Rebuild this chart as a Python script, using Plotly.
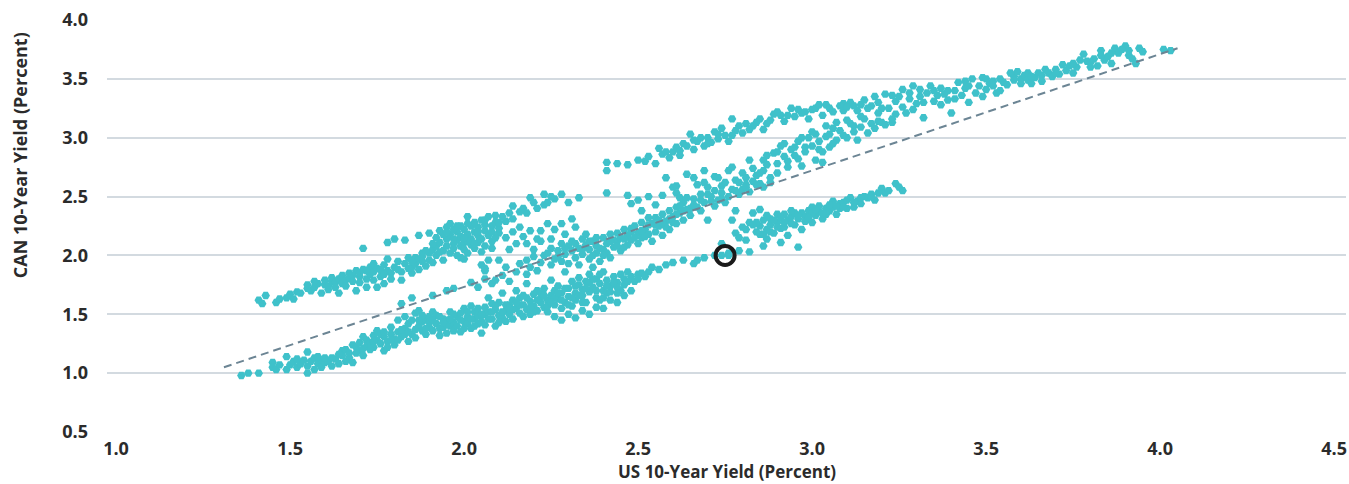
import plotly.graph_objects as go

# ---- data (US 10y, CAN 10y) ----
band_a = [
(1.41,1.62),(1.42,1.59),(1.43,1.66),(1.46,1.60),(1.47,1.63),(1.49,1.64),(1.50,1.67),(1.51,1.63),(1.52,1.69),(1.53,1.68),
(1.55,1.72),(1.55,1.75),(1.56,1.70),(1.57,1.73),(1.58,1.76),(1.59,1.68),(1.60,1.75),(1.60,1.79),(1.61,1.74),(1.62,1.78),
(1.62,1.81),(1.63,1.77),(1.64,1.80),(1.64,1.68),(1.65,1.83),(1.65,1.76),(1.66,1.79),(1.67,1.85),(1.67,1.81),(1.68,1.78),
(1.69,1.87),(1.69,1.70),(1.70,1.82),(1.70,1.85),(1.71,1.88),(1.71,2.06),(1.72,1.73),(1.72,1.80),(1.73,1.90),(1.73,1.84),
(1.74,1.93),(1.74,1.86),(1.75,1.73),(1.75,1.89),(1.76,1.82),(1.77,1.76),(1.77,1.92),(1.78,1.87),(1.78,1.97),(1.78,2.11),
(1.79,1.80),(1.80,2.14),(1.80,1.90),(1.81,1.95),(1.82,1.79),(1.82,1.86),(1.83,2.13),(1.83,1.93),(1.84,1.98),(1.85,1.85),
(1.85,1.90),(1.86,1.98),(1.86,1.93),(1.87,2.17),(1.87,1.88),(1.88,2.02),(1.88,1.95),(1.89,1.91),(1.90,2.19),(1.90,1.96),
(1.90,2.02),(1.91,2.05),(1.91,1.94),(1.92,2.08),(1.92,2.00),(1.93,2.21),(1.93,2.11),(1.94,2.04),(1.94,1.96),(1.95,2.24),
(1.95,2.14),(1.95,2.08),(1.96,2.27),(1.96,2.02),(1.96,2.18),(1.97,2.10),(1.97,2.06),(1.98,2.20),(1.98,2.13),(1.98,2.00),
(1.99,2.16),(1.99,2.08),(1.99,1.98),(2.00,2.22),(2.00,2.11),(2.00,2.05),(2.01,2.33),(2.01,2.18),(2.01,2.02),(2.02,2.14),
(2.02,2.25),(2.02,2.09),(2.03,2.20),(2.03,2.06),(2.04,2.17),(2.04,2.11),(2.04,2.24),(2.05,2.30),(2.05,2.14),(2.05,2.03),
(2.06,2.21),(2.06,2.08),(2.07,2.33),(2.07,2.17),(2.07,1.96),(2.08,2.25),(2.08,2.12),(2.09,2.34),(2.09,2.28),(2.10,2.19),
(2.10,2.23),(2.00,1.97),(2.05,1.92),(2.06,1.87),(2.10,1.96),(2.08,2.06),(2.12,2.29),(2.14,2.42),(2.14,2.31),(2.16,2.37),
(2.18,2.36),(2.19,2.49),(2.21,2.40),(2.23,2.52),(2.23,2.43),(2.24,2.45),(2.26,2.48),(2.28,2.52),(2.30,2.45),(2.33,2.49),
(2.41,2.53),(2.47,2.51),
(2.12,2.15),(2.13,2.05),(2.14,2.20),(2.15,2.10),(2.16,2.24),(2.17,2.16),(2.18,2.10),(2.19,2.21),(2.20,2.05),(2.21,2.14),
(2.22,2.21),(2.22,2.12),(2.24,2.27),(2.25,2.14),(2.26,2.22),(2.28,2.27),(2.29,2.18),(2.31,2.31),(2.32,2.24),
(1.63,1.73),(1.68,1.83),(1.72,1.87),(1.76,1.88),(1.79,1.85),(1.84,1.89),(1.87,1.97),(1.89,2.04),(1.92,2.15),(1.94,2.18),
(1.97,2.22),(1.99,2.25),(2.01,2.12),(2.03,2.28),(2.06,2.26),(2.09,2.15),
(1.57,1.78),(1.61,1.71),(1.66,1.74),(1.70,1.77),(1.74,1.79),(1.77,1.84),(1.81,1.88),(1.85,1.95),(1.88,1.99),(1.91,2.10),
(1.93,2.03),(1.95,2.20),(1.97,2.14),(1.98,2.25),(2.00,2.15),(2.01,2.27),(2.03,2.10),(2.04,2.20),(2.06,2.30),(2.08,2.20),
(2.10,2.28),(2.11,2.33),(2.13,2.36),(2.17,2.40),(2.20,2.45),(2.25,2.50),
]

band_b = [
(1.36,0.98),(1.38,1.00),(1.41,1.00),(1.45,1.09),(1.45,1.05),(1.46,1.03),(1.47,1.07),(1.49,1.03),(1.49,1.14),(1.50,1.07),
(1.51,1.10),(1.52,1.05),(1.53,1.08),(1.54,1.11),(1.55,1.18),(1.55,1.00),(1.55,1.06),(1.56,1.10),(1.57,1.03),(1.57,1.13),
(1.58,1.08),(1.59,1.05),(1.59,1.11),(1.60,1.09),(1.61,1.10),(1.62,1.06),(1.63,1.12),(1.64,1.08),(1.65,1.19),(1.65,1.15),
(1.66,1.20),(1.67,1.13),(1.68,1.09),(1.68,1.24),(1.69,1.22),(1.70,1.26),(1.70,1.19),(1.71,1.31),(1.71,1.15),(1.72,1.28),
(1.72,1.23),(1.73,1.26),(1.74,1.32),(1.74,1.22),(1.75,1.36),(1.75,1.28),(1.76,1.25),(1.77,1.19),(1.77,1.31),(1.78,1.27),
(1.79,1.39),(1.79,1.33),(1.80,1.29),(1.80,1.24),(1.81,1.45),(1.81,1.35),(1.82,1.59),(1.82,1.31),(1.83,1.48),(1.83,1.38),
(1.84,1.42),(1.84,1.27),(1.85,1.45),(1.85,1.33),(1.86,1.51),(1.86,1.30),(1.87,1.53),(1.87,1.40),(1.88,1.36),(1.88,1.44),
(1.89,1.45),(1.89,1.33),(1.90,1.48),(1.90,1.39),(1.91,1.52),(1.91,1.36),(1.92,1.49),(1.92,1.42),(1.93,1.32),(1.93,1.38),
(1.94,1.39),(1.94,1.46),(1.95,1.45),(1.95,1.34),(1.96,1.40),(1.96,1.52),(1.97,1.36),(1.97,1.43),(1.98,1.48),(1.98,1.40),
(1.99,1.51),(1.99,1.35),(2.00,1.44),(2.00,1.55),(2.01,1.42),(2.01,1.48),(2.02,1.57),(2.02,1.38),(2.03,1.46),(2.03,1.52),
(2.04,1.49),(2.04,1.55),(2.05,1.34),(2.05,1.44),(2.06,1.50),(2.06,1.41),(2.07,1.52),(2.07,1.64),(2.08,1.59),(2.08,1.46),
(2.09,1.40),(2.09,1.54),(2.10,1.49),(2.10,1.60),(2.11,1.47),(2.11,1.68),(2.12,1.53),(2.12,1.44),(2.13,1.58),(2.13,1.50),
(2.14,1.62),(2.14,1.46),(2.15,1.55),(2.15,1.70),(2.16,1.51),(2.16,1.64),(2.17,1.48),(2.17,1.58),(2.18,1.54),(2.18,1.76),
(2.19,1.61),(2.19,1.50),(2.20,1.57),(2.20,1.67),(2.21,1.70),(2.21,1.53),(2.22,1.60),(2.22,1.64),(2.23,1.56),(2.23,1.72),
(2.24,1.62),(2.24,1.52),(2.25,1.79),(2.25,1.66),(2.26,1.58),(2.26,1.70),(2.27,1.63),(2.27,1.74),(2.28,1.55),(2.28,1.68),
(2.29,1.86),(2.29,1.60),(2.30,1.72),(2.30,1.65),(2.31,1.78),(2.31,1.57),(2.32,1.68),(2.32,1.62),(2.33,1.75),(2.33,1.81),
(2.34,1.66),(2.34,1.71),(2.35,1.60),(2.35,1.78),(2.36,1.69),(2.36,1.84),(2.37,1.90),(2.37,1.73),(2.38,1.64),(2.38,1.80),
(2.39,1.76),(2.40,1.70),(2.40,1.86),(2.41,1.79),(2.42,1.74),(2.43,1.82),(2.44,1.77),(2.45,1.70),(2.45,1.84),(2.46,1.80),
(2.47,1.86),(2.48,1.82),(2.50,1.84),(2.51,1.85),(2.53,1.86),(2.54,1.90),(2.56,1.88),(2.58,1.92),(2.60,1.94),(2.63,1.96),
(2.66,1.93),(2.67,1.96),(2.69,1.98),(2.72,2.00),(2.74,2.00),(2.76,2.00),
(2.26,1.48),(2.28,1.45),(2.30,1.50),(2.32,1.47),(2.34,1.53),(2.36,1.50),(2.38,1.56),(2.40,1.55),(2.42,1.62),(2.44,1.60),
(2.46,1.66),(2.48,1.70),(2.39,1.62),(2.41,1.68),
(1.52,1.12),(1.58,1.14),(1.62,1.13),(1.66,1.10),(1.69,1.17),(1.73,1.20),(1.76,1.33),(1.78,1.22),(1.81,1.28),(1.83,1.33),
(1.86,1.37),(1.88,1.49),(1.90,1.43),(1.93,1.48),(1.95,1.41),(1.97,1.50),(2.00,1.38),(2.02,1.46),(2.04,1.42),(2.06,1.56),
(2.08,1.52),(2.10,1.43),(2.12,1.58),(2.14,1.54),(2.16,1.58),(2.18,1.64),(2.20,1.52),(2.22,1.68),(2.24,1.57),(2.26,1.64),
(2.28,1.62),(2.30,1.58),(2.32,1.74),(2.34,1.60),(2.36,1.77),(2.38,1.70),(2.40,1.64),(2.42,1.69),(2.44,1.73),(2.46,1.75),
(2.49,1.78),(2.52,1.82),
(1.60,1.13),(1.64,1.16),(1.67,1.17),(1.71,1.21),(1.74,1.27),(1.77,1.35),(1.79,1.28),(1.82,1.37),(1.84,1.35),(1.87,1.45),
(1.89,1.38),(1.91,1.45),(1.94,1.43),(1.96,1.46),(1.99,1.45),(2.01,1.52),(2.03,1.40),(2.05,1.50),(2.07,1.46),(2.09,1.57),
(2.11,1.52),(2.13,1.55),(2.15,1.60),(2.17,1.66),(2.19,1.56),(2.21,1.62),(2.23,1.66),(2.25,1.60),(2.27,1.68),(2.29,1.72),
(2.31,1.64),(2.33,1.66),(2.35,1.72),(2.37,1.80),(2.39,1.84),(2.41,1.74),(2.43,1.77),(2.44,1.68),(2.47,1.78),(2.50,1.80),
]

band_c = [
(1.85,1.64),(1.91,1.66),(1.95,1.70),(1.97,1.72),(2.02,1.77),(2.04,1.73),(2.06,1.80),(2.06,1.89),(2.08,1.76),(2.09,1.79),
(2.11,1.83),(2.12,1.90),(2.13,1.78),(2.15,1.86),(2.16,1.93),(2.18,1.84),(2.18,1.96),(2.19,1.90),(2.20,1.99),(2.21,1.87),
(2.22,1.94),(2.23,2.00),(2.24,2.02),(2.25,1.92),(2.26,1.97),(2.27,2.04),(2.28,1.95),(2.29,2.01),(2.30,2.08),(2.30,1.93),
(2.31,2.04),(2.32,1.98),(2.33,2.06),(2.33,1.92),(2.34,2.14),(2.34,2.01),(2.35,2.09),(2.36,1.97),(2.36,2.05),(2.37,2.12),
(2.38,2.02),(2.38,2.08),(2.39,1.95),(2.40,2.15),(2.40,2.05),(2.41,2.02),(2.41,2.10),(2.42,2.18),(2.42,1.98),(2.43,2.07),
(2.44,2.19),(2.44,2.12),(2.45,2.04),(2.45,2.15),(2.46,2.22),(2.47,2.09),(2.47,2.17),(2.48,2.13),(2.49,2.25),(2.50,2.19),
(2.50,2.10),(2.51,2.28),(2.51,2.15),(2.52,2.22),(2.53,2.32),(2.53,2.18),(2.54,2.27),(2.54,2.12),(2.55,2.32),(2.55,2.20),
(2.56,2.25),(2.57,2.35),(2.57,2.17),(2.58,2.29),(2.59,2.38),(2.59,2.22),(2.60,2.33),(2.61,2.27),(2.61,2.41),(2.62,2.36),
(2.63,2.30),(2.63,2.45),(2.64,2.39),(2.65,2.34),(2.66,2.48),(2.67,2.41),(2.68,2.38),(2.69,2.45),(2.70,2.30),(2.71,2.50),
(2.72,2.42),(2.73,2.47),(2.74,2.53),(2.75,2.45),(2.76,2.50),(2.77,2.56),(2.78,2.38),(2.79,2.52),(2.80,2.56),(2.81,2.60),
(2.82,2.54),(2.83,2.63),(2.85,2.61),(2.86,2.58),
(2.48,2.44),(2.50,2.47),(2.51,2.38),(2.53,2.50),(2.55,2.43),(2.57,2.51),(2.58,2.66),(2.60,2.58),(2.61,2.53),(2.61,2.59),
(2.62,2.49),(2.64,2.69),(2.64,2.49),(2.66,2.66),(2.67,2.60),(2.69,2.72),(2.69,2.62),(2.70,2.58),(2.72,2.67),(2.73,2.66),
(2.74,2.59),(2.76,2.72),(2.77,2.75),(2.78,2.64),(2.80,2.70),(2.81,2.58),(2.82,2.81),(2.83,2.74),(2.84,2.68),(2.86,2.72),
(2.86,2.81),(2.87,2.77),(2.88,2.66),(2.89,2.87),(2.90,2.78),(2.91,2.93),(2.92,2.84),(2.93,2.75),(2.94,2.90),(2.95,2.85),
(2.96,2.97),(2.97,2.76),(2.98,2.88),(2.99,3.00),(3.00,2.93),(3.01,2.81),(3.01,3.03),(3.02,2.97),(3.03,2.79),(3.03,2.88),
(3.04,3.01),(3.05,3.03),(3.05,2.92),(3.06,3.08),(3.07,2.98),(3.08,3.06),(3.09,3.29),(3.10,3.00),(3.11,3.12),(3.12,3.05),
(3.13,2.98),(3.14,3.09),(3.15,3.16),(3.16,3.04),(3.18,3.08),(3.19,3.14),(3.20,3.13),(3.21,3.11),(3.23,3.13),(3.24,3.20),
(2.28,2.10),(2.31,2.12),(2.35,2.18),(2.37,2.00),(2.39,2.06),(2.43,2.13),(2.46,2.07),(2.48,2.20),(2.52,2.16),(2.56,2.30),
(2.58,2.24),(2.60,2.28),(2.62,2.42),(2.65,2.40),(2.68,2.47),(2.70,2.52),(2.74,2.48),(2.78,2.55),(2.84,2.60),(2.88,2.62),
(2.90,2.70),(2.93,2.80),(2.96,2.82),(2.98,2.92),(3.02,2.90),(3.06,2.95),(3.09,3.02),(3.12,3.10),(3.17,3.12),
(2.25,2.06),(2.27,1.99),(2.29,2.06),(2.32,2.10),(2.34,2.05),(2.36,2.12),(2.38,2.15),(2.40,2.00),(2.42,2.12),(2.44,2.08),
(2.46,2.14),(2.48,2.23),(2.49,2.15),(2.51,2.21),(2.53,2.26),(2.55,2.26),(2.57,2.28),(2.59,2.31),(2.61,2.35),(2.63,2.38),
(2.66,2.43),(2.68,2.52),(2.71,2.46),(2.72,2.55),(2.75,2.62),(2.79,2.62),(2.81,2.66),(2.85,2.70),(2.87,2.85),(2.90,2.88),
(2.92,2.95),(2.95,2.92),(2.97,3.00),(3.00,3.05),(3.04,3.10),(3.07,3.13),(3.10,3.15),(3.14,3.18),
]

band_d = [
(2.41,2.79),(2.41,2.72),(2.44,2.78),(2.47,2.77),(2.50,2.81),(2.52,2.80),(2.53,2.84),(2.55,2.78),(2.56,2.91),(2.57,2.86),
(2.59,2.83),(2.60,2.88),(2.61,2.92),(2.62,2.85),(2.63,2.95),(2.65,3.03),(2.66,2.90),(2.67,2.97),(2.68,3.00),(2.69,2.93),
(2.71,2.96),(2.72,3.05),(2.73,2.99),(2.75,3.02),(2.76,2.97),(2.77,3.16),(2.78,3.06),(2.80,3.04),(2.81,3.12),(2.83,3.10),
(2.85,3.16),(2.86,3.07),(2.88,3.15),(2.89,3.20),(2.91,3.19),(2.92,3.14),(2.94,3.25),(2.95,3.18),(2.97,3.21),(2.99,3.16),
(3.00,3.24),(3.01,3.25),(3.03,3.19),(3.04,3.28),(3.06,3.22),(3.08,3.27),(3.09,3.23),(3.11,3.30),(3.13,3.23),(3.14,3.28),
(3.15,3.32),(3.17,3.27),(3.18,3.35),(3.19,3.21),(3.20,3.25),(3.21,3.37),(3.22,3.25),(3.23,3.16),(3.24,3.31),(3.26,3.41),
(3.26,3.26),(3.27,3.21),(3.28,3.33),(3.29,3.44),(3.29,3.24),(3.30,3.29),(3.31,3.35),(3.32,3.17),(3.32,3.30),(3.33,3.38),
(3.34,3.44),(3.35,3.31),(3.36,3.36),(3.37,3.28),(3.38,3.37),(3.39,3.40),(3.39,3.32),(3.40,3.21),(3.41,3.33),(3.42,3.47),
(3.43,3.36),(3.44,3.42),(3.45,3.30),(3.46,3.50),(3.47,3.38),(3.48,3.44),(3.49,3.51),(3.49,3.35),(3.50,3.41),(3.51,3.46),
(3.52,3.44),(3.53,3.38),(3.54,3.50),(3.54,3.40),(3.56,3.45),(3.58,3.52),(3.59,3.56),(3.60,3.50),(3.60,3.46),(3.61,3.53),
(3.62,3.49),(3.63,3.46),(3.64,3.51),(3.65,3.55),(3.66,3.48),(3.68,3.55),(3.69,3.52),(3.70,3.58),(3.71,3.54),(3.73,3.57),
(3.74,3.61),(3.75,3.55),(3.76,3.60),(3.78,3.71),(3.79,3.65),(3.80,3.60),(3.81,3.67),(3.82,3.61),(3.83,3.74),(3.84,3.66),
(3.85,3.69),(3.86,3.63),(3.87,3.76),(3.88,3.72),(3.90,3.78),(3.91,3.70),(3.92,3.67),(3.93,3.63),(3.94,3.76),(3.95,3.73),
(4.01,3.75),(4.03,3.74),
(2.58,2.88),(2.64,2.93),(2.70,3.00),(2.74,3.08),(2.79,3.10),(2.84,3.13),(2.90,3.22),(2.96,3.24),(3.02,3.28),(3.10,3.26),
(3.16,3.25),(3.25,3.35),(3.35,3.40),(3.44,3.48),(3.52,3.48),(3.57,3.55),(3.62,3.55),(3.67,3.58),(3.72,3.62),(3.77,3.66),
(3.83,3.70),(3.89,3.75),
(2.62,2.89),(2.66,2.98),(2.70,2.95),(2.73,3.03),(2.77,3.02),(2.82,3.07),(2.87,3.12),(2.93,3.19),(2.98,3.22),(3.05,3.25),
(3.12,3.27),(3.19,3.30),(3.23,3.36),(3.28,3.38),(3.31,3.41),(3.37,3.42),(3.41,3.40),(3.45,3.44),(3.50,3.50),(3.55,3.47),
(3.58,3.49),(3.63,3.52),(3.66,3.53),(3.70,3.55),(3.75,3.63),(3.80,3.64),(3.86,3.72),(3.91,3.74),
]

band_e = [
(2.74,2.10),(2.76,2.02),(2.77,2.30),(2.78,2.19),(2.79,2.04),(2.80,2.24),(2.81,2.13),(2.82,2.03),(2.82,2.28),(2.83,2.36),
(2.84,2.20),(2.85,2.18),(2.85,2.25),(2.85,2.39),(2.86,2.08),(2.86,2.30),(2.87,2.14),(2.87,2.22),(2.88,2.31),(2.88,2.26),
(2.89,2.19),(2.90,2.28),(2.90,2.35),(2.91,2.11),(2.91,2.23),(2.92,2.35),(2.92,2.24),(2.93,2.17),(2.93,2.30),(2.94,2.33),
(2.95,2.26),(2.96,2.07),(2.96,2.31),(2.97,2.36),(2.97,2.22),(2.98,2.33),(2.99,2.38),(3.00,2.41),(3.00,2.28),(3.01,2.34),
(3.02,2.37),(3.03,2.31),(3.04,2.40),(3.05,2.38),(3.06,2.41),(3.07,2.35),(3.08,2.44),(3.09,2.45),(3.10,2.40),(3.11,2.49),
(3.12,2.41),(3.13,2.46),(3.14,2.44),(3.16,2.49),(3.17,2.52),(3.18,2.47),(3.20,2.57),(3.21,2.53),(3.22,2.55),(3.24,2.61),
(3.25,2.58),(3.26,2.55),
(2.84,2.28),(2.87,2.34),(2.89,2.30),(2.91,2.32),(2.94,2.27),(2.95,2.36),(2.98,2.29),(3.00,2.36),(3.02,2.42),(3.04,2.35),
(3.06,2.46),(3.08,2.40),(3.10,2.47),(3.15,2.50),(3.19,2.53),
(2.79,2.15),(2.81,2.22),(2.83,2.26),(2.86,2.18),(2.88,2.20),(2.90,2.24),(2.92,2.28),(2.94,2.38),(2.96,2.34),(2.99,2.32),
(3.01,2.39),(3.03,2.36),(3.05,2.43),(3.07,2.42),(3.09,2.41),(3.12,2.45),(3.14,2.49),(3.17,2.50),
]

trend_us = [1.31, 4.05]
trend_can = [1.05, 3.76]

current_us = [2.75]
current_can = [2.00]

x_ticks = [1.0, 1.5, 2.0, 2.5, 3.0, 3.5, 4.0, 4.5]
y_ticks = [0.5, 1.0, 1.5, 2.0, 2.5, 3.0, 3.5, 4.0]

all_pts = band_a + band_b + band_c + band_d + band_e
us_vals = [p[0] for p in all_pts]
can_vals = [p[1] for p in all_pts]

FONT = "'Open Sans', Roboto, sans-serif"
TXT = "#2b2b2b"
FS = 18

fig = go.Figure()
fig.add_trace(go.Scatter(
    x=us_vals, y=can_vals, mode="markers",
    marker=dict(symbol="hexagon2", size=8.5, color="#3fc1ca", line=dict(width=0)),
    hoverinfo="x+y", showlegend=False))
fig.add_trace(go.Scatter(
    x=trend_us, y=trend_can, mode="lines",
    line=dict(color="#6c8594", width=2, dash="8px,5px"),
    hoverinfo="skip", showlegend=False))
fig.add_trace(go.Scatter(
    x=current_us, y=current_can, mode="markers",
    marker=dict(symbol="circle-open", size=19, color="#1a1a1a", line=dict(width=4, color="#1a1a1a")),
    showlegend=False))

fig.update_layout(
    width=1349, height=484,
    margin=dict(l=107, r=3, t=20, b=52),
    paper_bgcolor="white", plot_bgcolor="white",
    font=dict(family=FONT, size=FS, color=TXT),
    xaxis=dict(
        range=[0.974, 4.534], tickvals=x_ticks, ticktext=[f"{v:.1f}" for v in x_ticks],
        showgrid=False, zeroline=False, showline=False,
        tickfont=dict(family=FONT, size=FS, color=TXT, weight="bold"),
        ticklabelstandoff=4,
    ),
    yaxis=dict(
        range=[0.5, 4.0], tickvals=y_ticks, ticktext=[f"{v:.1f}" for v in y_ticks],
        showgrid=True, gridcolor="#d3dae0", gridwidth=2, zeroline=False, showline=False,
        tickfont=dict(family=FONT, size=FS, color=TXT, weight="bold"),
        ticklabelstandoff=18,
    ),
    annotations=[
        dict(text="<b>CAN 10-Year Yield (Percent)</b>", textangle=-90,
             xref="paper", yref="paper", x=-0.0702, y=0.672,
             xanchor="center", yanchor="middle", showarrow=False,
             font=dict(family=FONT, size=18, color=TXT)),
        dict(text="<b>US 10-Year Yield (Percent)</b>",
             xref="paper", yref="paper", x=0.5, y=-0.1262,
             xanchor="center", yanchor="bottom", showarrow=False, borderpad=0,
             font=dict(family=FONT, size=17, color=TXT)),
    ],
)

fig.write_html("out.html", config={"displayModeBar": False},
               post_script="document.body.style.margin='0';")
